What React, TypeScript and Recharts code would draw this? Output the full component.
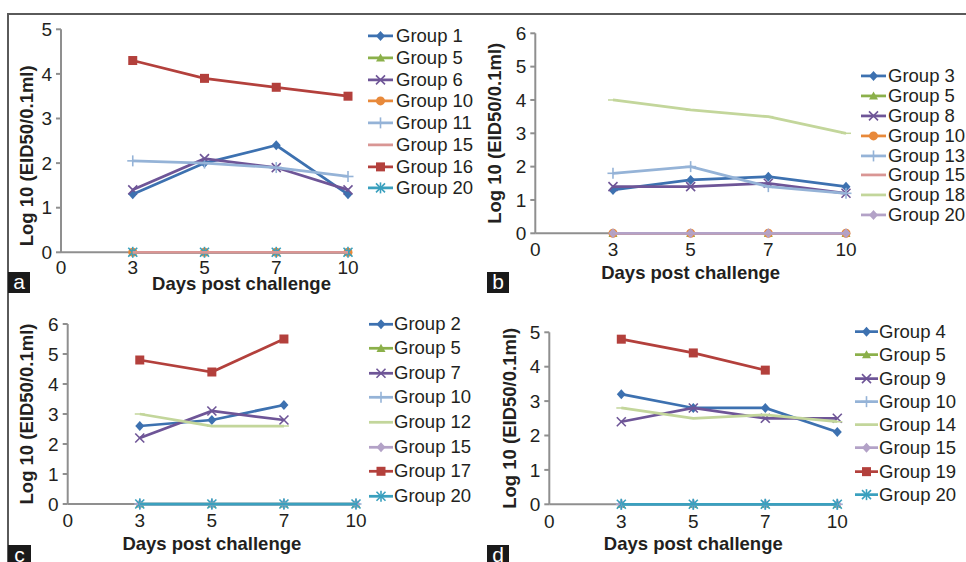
import React from 'react';
import { LineChart, Line, XAxis, YAxis, Legend } from 'recharts';

const days = ['0', '3', '5', '7', '10'];

// panel a
const aGroup1 = [null, 1.3, 2.0, 2.4, 1.3];
const aGroup5 = [null, 0, 0, 0, 0];
const aGroup6 = [null, 1.4, 2.1, 1.9, 1.4];
const aGroup10 = [null, 0, 0, 0, 0];
const aGroup11 = [null, 2.05, 2.0, 1.9, 1.7];
const aGroup15 = [null, 0, 0, 0, 0];
const aGroup16 = [null, 4.3, 3.9, 3.7, 3.5];
const aGroup20 = [null, 0, 0, 0, 0];

// panel b
const bGroup3 = [null, 1.3, 1.6, 1.7, 1.4];
const bGroup5 = [null, 0, 0, 0, 0];
const bGroup8 = [null, 1.4, 1.4, 1.5, 1.2];
const bGroup10 = [null, 0, 0, 0, 0];
const bGroup13 = [null, 1.8, 2.0, 1.4, 1.2];
const bGroup15 = [null, 0, 0, 0, 0];
const bGroup18 = [null, 4.0, 3.7, 3.5, 3.0];
const bGroup20 = [null, 0, 0, 0, 0];

// panel c
const cGroup2 = [null, 2.6, 2.8, 3.3, null];
const cGroup5 = [null, 0, 0, 0, 0];
const cGroup7 = [null, 2.2, 3.1, 2.8, null];
const cGroup10 = [null, 0, 0, 0, 0];
const cGroup12 = [null, 3.0, 2.6, 2.6, null];
const cGroup15 = [null, 0, 0, 0, 0];
const cGroup17 = [null, 4.8, 4.4, 5.5, null];
const cGroup20 = [null, 0, 0, 0, 0];

// panel d
const dGroup4 = [null, 3.2, 2.8, 2.8, 2.1];
const dGroup5 = [null, 0, 0, 0, 0];
const dGroup9 = [null, 2.4, 2.8, 2.5, 2.5];
const dGroup10 = [null, 0, 0, 0, 0];
const dGroup14 = [null, 2.8, 2.5, 2.6, 2.4];
const dGroup15 = [null, 0, 0, 0, 0];
const dGroup19 = [null, 4.8, 4.4, 3.9, null];
const dGroup20 = [null, 0, 0, 0, 0];

const BLUE = '#3d71b0';
const RED = '#b3403c';
const GREEN = '#8bb04a';
const PURPLE = '#6e5597';
const TEAL = '#3aa0be';
const ORANGE = '#e8893a';
const LIGHTBLUE = '#95b3d7';
const PINK = '#d99694';
const LIGHTGREEN = '#c3d69b';
const LAVENDER = '#b3a2c7';

const FONT = '"Liberation Sans", Arial, sans-serif';
const TEXT = '#231f20';
const AXIS = '#8f8f8f';

type MarkerKind = 'diamond' | 'triangle' | 'x' | 'circle' | 'plus' | 'dash' | 'square' | 'asterisk' | 'none';
type Series = { name: string; values: (number | null)[]; color: string; marker: MarkerKind };

const seriesA: Series[] = [
    { name: 'Group 1', values: aGroup1, color: BLUE, marker: 'diamond' },
    { name: 'Group 5', values: aGroup5, color: GREEN, marker: 'triangle' },
    { name: 'Group 6', values: aGroup6, color: PURPLE, marker: 'x' },
    { name: 'Group 10', values: aGroup10, color: ORANGE, marker: 'circle' },
    { name: 'Group 11', values: aGroup11, color: LIGHTBLUE, marker: 'plus' },
    { name: 'Group 15', values: aGroup15, color: PINK, marker: 'none' },
    { name: 'Group 16', values: aGroup16, color: RED, marker: 'square' },
    { name: 'Group 20', values: aGroup20, color: TEAL, marker: 'asterisk' },
];

const seriesB: Series[] = [
    { name: 'Group 3', values: bGroup3, color: BLUE, marker: 'diamond' },
    { name: 'Group 5', values: bGroup5, color: GREEN, marker: 'triangle' },
    { name: 'Group 8', values: bGroup8, color: PURPLE, marker: 'x' },
    { name: 'Group 10', values: bGroup10, color: ORANGE, marker: 'circle' },
    { name: 'Group 13', values: bGroup13, color: LIGHTBLUE, marker: 'plus' },
    { name: 'Group 15', values: bGroup15, color: PINK, marker: 'none' },
    { name: 'Group 18', values: bGroup18, color: LIGHTGREEN, marker: 'dash' },
    { name: 'Group 20', values: bGroup20, color: LAVENDER, marker: 'diamond' },
];

const seriesC: Series[] = [
    { name: 'Group 2', values: cGroup2, color: BLUE, marker: 'diamond' },
    { name: 'Group 5', values: cGroup5, color: GREEN, marker: 'triangle' },
    { name: 'Group 7', values: cGroup7, color: PURPLE, marker: 'x' },
    { name: 'Group 10', values: cGroup10, color: LIGHTBLUE, marker: 'plus' },
    { name: 'Group 12', values: cGroup12, color: LIGHTGREEN, marker: 'dash' },
    { name: 'Group 15', values: cGroup15, color: LAVENDER, marker: 'diamond' },
    { name: 'Group 17', values: cGroup17, color: RED, marker: 'square' },
    { name: 'Group 20', values: cGroup20, color: TEAL, marker: 'asterisk' },
];

const seriesD: Series[] = [
    { name: 'Group 4', values: dGroup4, color: BLUE, marker: 'diamond' },
    { name: 'Group 5', values: dGroup5, color: GREEN, marker: 'triangle' },
    { name: 'Group 9', values: dGroup9, color: PURPLE, marker: 'x' },
    { name: 'Group 10', values: dGroup10, color: LIGHTBLUE, marker: 'plus' },
    { name: 'Group 14', values: dGroup14, color: LIGHTGREEN, marker: 'dash' },
    { name: 'Group 15', values: dGroup15, color: LAVENDER, marker: 'diamond' },
    { name: 'Group 19', values: dGroup19, color: RED, marker: 'square' },
    { name: 'Group 20', values: dGroup20, color: TEAL, marker: 'asterisk' },
];

const renderMarker = (kind: MarkerKind, x: number, y: number, color: string) => {
    const s = 4.5;
    switch (kind) {
        case 'diamond':
            return <polygon points={`${x},${y - s - 0.5} ${x + s},${y} ${x},${y + s + 0.5} ${x - s},${y}`} fill={color} />;
        case 'square':
            return <rect x={x - s} y={y - s} width={2 * s} height={2 * s} fill={color} />;
        case 'triangle':
            return <polygon points={`${x},${y - s} ${x + s},${y + s * 0.8} ${x - s},${y + s * 0.8}`} fill={color} />;
        case 'circle':
            return <circle cx={x} cy={y} r={s} fill={color} />;
        case 'x':
            return (
                <g stroke={color} strokeWidth={1.6}>
                    <line x1={x - s} y1={y - s} x2={x + s} y2={y + s} />
                    <line x1={x - s} y1={y + s} x2={x + s} y2={y - s} />
                </g>
            );
        case 'plus':
            return (
                <g stroke={color} strokeWidth={1.6}>
                    <line x1={x - s - 1} y1={y} x2={x + s + 1} y2={y} />
                    <line x1={x} y1={y - s - 1} x2={x} y2={y + s + 1} />
                </g>
            );
        case 'asterisk':
            return (
                <g stroke={color} strokeWidth={1.6}>
                    <line x1={x - s} y1={y - s} x2={x + s} y2={y + s} />
                    <line x1={x - s} y1={y + s} x2={x + s} y2={y - s} />
                    <line x1={x} y1={y - s - 1} x2={x} y2={y + s + 1} />
                </g>
            );
        case 'dash':
            return <line x1={x - 5} y1={y} x2={x + 5} y2={y} stroke={color} strokeWidth={1.5} />;
        default:
            return null;
    }
};

type LegendProps = { series: Series[]; rowH: number; lineW: number; gap: number };

const LegendList = ({ series, rowH, lineW, gap }: LegendProps) => (
    <div style={{ fontFamily: FONT, fontSize: 18.5, color: TEXT }}>
        {series.map((s) => (
            <div key={s.name} style={{ display: 'flex', alignItems: 'center', height: rowH, whiteSpace: 'nowrap' }}>
                <svg width={lineW} height={rowH} style={{ flex: 'none' }}>
                    <line x1={0} y1={rowH / 2} x2={lineW} y2={rowH / 2} stroke={s.color} strokeWidth={2.75} />
                    {renderMarker(s.marker, lineW / 2, rowH / 2, s.color)}
                </svg>
                <span style={{ marginLeft: gap, lineHeight: `${rowH}px` }}>{s.name}</span>
            </div>
        ))}
    </div>
);

type PanelProps = {
    series: Series[];
    drawLast?: string;
    yMax: number;
    left: number;
    top: number;
    width: number;
    height: number;
    marginTop: number;
    marginRight: number;
    yAxisWidth: number;
    xAxisHeight: number;
    xTickMargin: number;
    xTitleOffset: number;
    xTitleDx: number;
    yTitleOffset: number;
    yTitleDy: number;
    legendLeft: number;
    legendTop: number;
    rowH: number;
    lineW: number;
    gap: number;
};

const Panel = (p: PanelProps) => {
    const rows = days.map((day, i) => {
        const row: Record<string, string | number | null> = { day };
        p.series.forEach((s) => {
            row[s.name] = s.values[i];
        });
        return row;
    });
    const ticks = Array.from({ length: p.yMax + 1 }, (_, i) => i);
    // drawing order: legend order, except one series that sits on top of the zero line
    const drawn = [
        ...p.series.filter((s) => s.name !== p.drawLast),
        ...p.series.filter((s) => s.name === p.drawLast),
    ];

    return (
        <div style={{ position: 'absolute', left: p.left, top: p.top }}>
            <LineChart
                width={p.width}
                height={p.height}
                data={rows}
                margin={{ top: p.marginTop, right: p.marginRight, left: 0, bottom: 0 }}
            >
                <XAxis
                    dataKey="day"
                    height={p.xAxisHeight}
                    stroke={AXIS}
                    strokeWidth={2}
                    tickLine={false}
                    tickSize={0}
                    tickMargin={p.xTickMargin}
                    interval={0}
                    tick={{ fontSize: 19, fill: TEXT }}
                    label={{
                        value: 'Days post challenge',
                        position: 'insideTop',
                        offset: p.xTitleOffset,
                        dx: p.xTitleDx,
                        style: { fontSize: 18.5, fontWeight: 700, fill: TEXT },
                    }}
                />
                <YAxis
                    type="number"
                    domain={[0, p.yMax]}
                    ticks={ticks}
                    width={p.yAxisWidth}
                    stroke={AXIS}
                    strokeWidth={2}
                    tickSize={5}
                    tickMargin={4}
                    tick={{ fontSize: 19, fill: TEXT }}
                    label={{
                        value: 'Log 10 (EID50/0.1ml)',
                        angle: -90,
                        position: 'insideLeft',
                        offset: p.yTitleOffset,
                        dy: p.yTitleDy,
                        style: { textAnchor: 'middle', fontSize: 18.5, fontWeight: 700, fill: TEXT },
                    }}
                />
                <Legend
                    layout="horizontal"
                    verticalAlign="middle"
                    align="center"
                    wrapperStyle={{
                        left: p.legendLeft,
                        top: p.legendTop,
                        right: 'auto',
                        bottom: 'auto',
                        width: 140,
                        height: 'auto',
                    }}
                    content={() => <LegendList series={p.series} rowH={p.rowH} lineW={p.lineW} gap={p.gap} />}
                />
                {drawn.map((s) => (
                    <Line
                        key={s.name}
                        dataKey={s.name}
                        name={s.name}
                        type="linear"
                        stroke={s.color}
                        strokeWidth={2.75}
                        zIndex={700}
                        isAnimationActive={false}
                        activeDot={false}
                        dot={(d: any) => (
                            <g key={`${s.name}-${d.index}`}>
                                {d.value == null || d.cy == null ? null : renderMarker(s.marker, d.cx, d.cy, s.color)}
                            </g>
                        )}
                    />
                ))}
            </LineChart>
        </div>
    );
};

const letterStyle = (left: number, top: number, w: number, h: number): React.CSSProperties => ({
    position: 'absolute',
    left,
    top,
    width: w,
    height: h,
    background: '#1a1a1a',
    color: '#fff',
    fontSize: 21,
    lineHeight: '19px',
    textAlign: 'center',
    overflow: 'hidden',
});

export default function App() {
    return (
        <div
            style={{
                position: 'absolute',
                left: 0,
                top: 0,
                width: 966,
                height: 562,
                background: '#fff',
                fontFamily: FONT,
                overflow: 'hidden',
            }}
        >
            <div
                style={{
                    position: 'absolute',
                    left: 7,
                    top: 13,
                    width: 970,
                    height: 560,
                    borderTop: '2px solid #5a5a5a',
                    borderLeft: '2px solid #5a5a5a',
                }}
            />
            <Panel
                series={seriesA}
                drawLast="Group 15"
                yMax={5}
                left={8}
                top={15}
                width={475}
                height={285}
                marginTop={14.3}
                marginRight={135}
                yAxisWidth={53}
                xAxisHeight={47.7}
                xTickMargin={8}
                xTitleOffset={24.4}
                xTitleDx={37}
                yTitleOffset={18}
                yTitleDy={15}
                legendLeft={360}
                legendTop={10.1}
                rowH={21.76}
                lineW={25}
                gap={3}
            />
            <Panel
                series={seriesB}
                yMax={6}
                left={483}
                top={15}
                width={483}
                height={285}
                marginTop={18.3}
                marginRight={120}
                yAxisWidth={52.3}
                xAxisHeight={66.7}
                xTickMargin={9}
                xTitleOffset={32.4}
                xTitleDx={0}
                yTitleOffset={11.7}
                yTitleDy={0}
                legendLeft={378}
                legendTop={51.1}
                rowH={19.86}
                lineW={25}
                gap={2}
            />
            <Panel
                series={seriesC}
                yMax={6}
                left={8}
                top={300}
                width={475}
                height={262}
                marginTop={24}
                marginRight={127}
                yAxisWidth={59.7}
                xAxisHeight={58}
                xTickMargin={10}
                xTitleOffset={33.3}
                xTitleDx={0}
                yTitleOffset={18.7}
                yTitleDy={0}
                legendLeft={361}
                legendTop={11.7}
                rowH={24.57}
                lineW={24}
                gap={1}
            />
            <Panel
                series={seriesD}
                yMax={5}
                left={483}
                top={300}
                width={483}
                height={262}
                marginTop={32.3}
                marginRight={128.7}
                yAxisWidth={66.3}
                xAxisHeight={57.7}
                xTickMargin={10}
                xTitleOffset={33}
                xTitleDx={0}
                yTitleOffset={26.7}
                yTitleDy={0}
                legendLeft={372}
                legendTop={20}
                rowH={23.3}
                lineW={23}
                gap={1}
            />
            <div style={letterStyle(8, 272, 22, 21)}>a</div>
            <div style={letterStyle(487, 272, 22, 21)}>b</div>
            <div style={letterStyle(8, 545, 23, 17)}>c</div>
            <div style={letterStyle(487, 545, 22, 17)}>d</div>
        </div>
    );
}
